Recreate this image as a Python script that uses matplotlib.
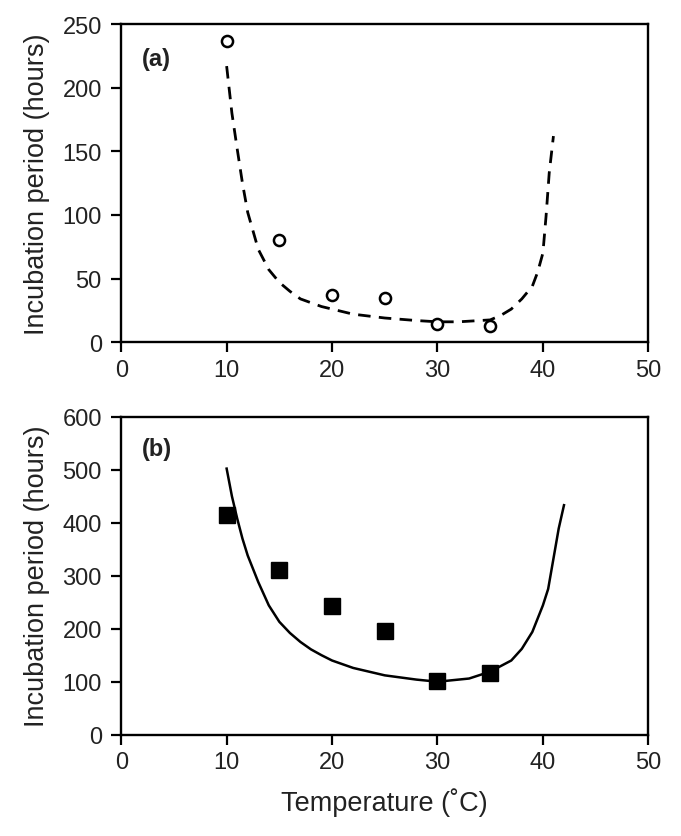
import numpy as np
import matplotlib.pyplot as plt

plt.rcParams['font.family'] = ['Liberation Sans', 'DejaVu Sans']

# observed points
temp_obs = [10, 15, 20, 25, 30, 35]
inc_a = [237, 80, 37, 35, 14, 13]
inc_b = [414, 311, 242, 196, 102, 117]

# fitted curve (a)
curve_a_x = [10, 10.5, 11, 11.5, 12, 13, 14, 15, 16, 17, 18, 19, 20, 22, 25, 28, 30, 32,
             35, 36, 37, 38, 39, 39.5, 40, 40.3, 40.6, 41]
curve_a_y = [217, 180, 152, 125, 102, 73, 57, 47, 40, 34, 31, 28, 26, 22, 19, 17, 16, 16,
             17.5, 21, 26, 34, 44, 55, 70, 99, 133, 162]

# fitted curve (b)
curve_b_x = [10, 10.5, 11, 11.5, 12, 13, 14, 15, 16, 17, 18, 19, 20, 22, 25, 28, 30, 33,
             35, 37, 38, 39, 40, 40.5, 41, 41.5, 42]
curve_b_y = [502, 450, 408, 370, 338, 288, 244, 213, 192, 175, 161, 150, 140, 126, 112, 104, 100, 106,
             119, 140, 162, 194, 244, 275, 332, 389, 433]

fig = plt.figure(figsize=(6.81, 8.37), dpi=100)
ax1 = fig.add_axes([0.178, 0.590, 0.774, 0.380])
ax2 = fig.add_axes([0.178, 0.121, 0.774, 0.380])

ax1.plot(curve_a_x, curve_a_y, color='black', lw=2.0, dashes=(4.5, 3))
ax1.plot(temp_obs, inc_a, 'o', mfc='white', mec='black', mew=1.8, ms=8, ls='none')
ax1.set_ylim(0, 250)
ax1.set_yticks(range(0, 251, 50))
ax1.text(0.04, 0.893, '(a)', transform=ax1.transAxes, fontsize=17, fontweight='bold',
         va='center', color='#222222')

ax2.plot(curve_b_x, curve_b_y, color='black', lw=1.8)
ax2.plot(temp_obs, inc_b, 's', color='black', ms=11, ls='none')
ax2.set_ylim(0, 600)
ax2.set_yticks(range(0, 601, 100))
ax2.text(0.04, 0.90, '(b)', transform=ax2.transAxes, fontsize=17, fontweight='bold',
         va='center', color='#222222')
ax2.set_xlabel('Temperature (˚C)', fontsize=19.5, labelpad=10, color='#222222')

for ax in (ax1, ax2):
    ax.set_xlim(0, 50)
    ax.set_xticks(range(0, 51, 10))
    ax.set_ylabel('Incubation period (hours)', fontsize=19.5, labelpad=9, color='#222222')
    ax.tick_params(direction='out', length=7, width=1.6, pad=5, labelsize=17, colors='black',
                   labelcolor='#222222')
    ax.tick_params(axis='y', pad=7)
    for s in ax.spines.values():
        s.set_linewidth(1.7)

fig.savefig('out.png', dpi=100)
